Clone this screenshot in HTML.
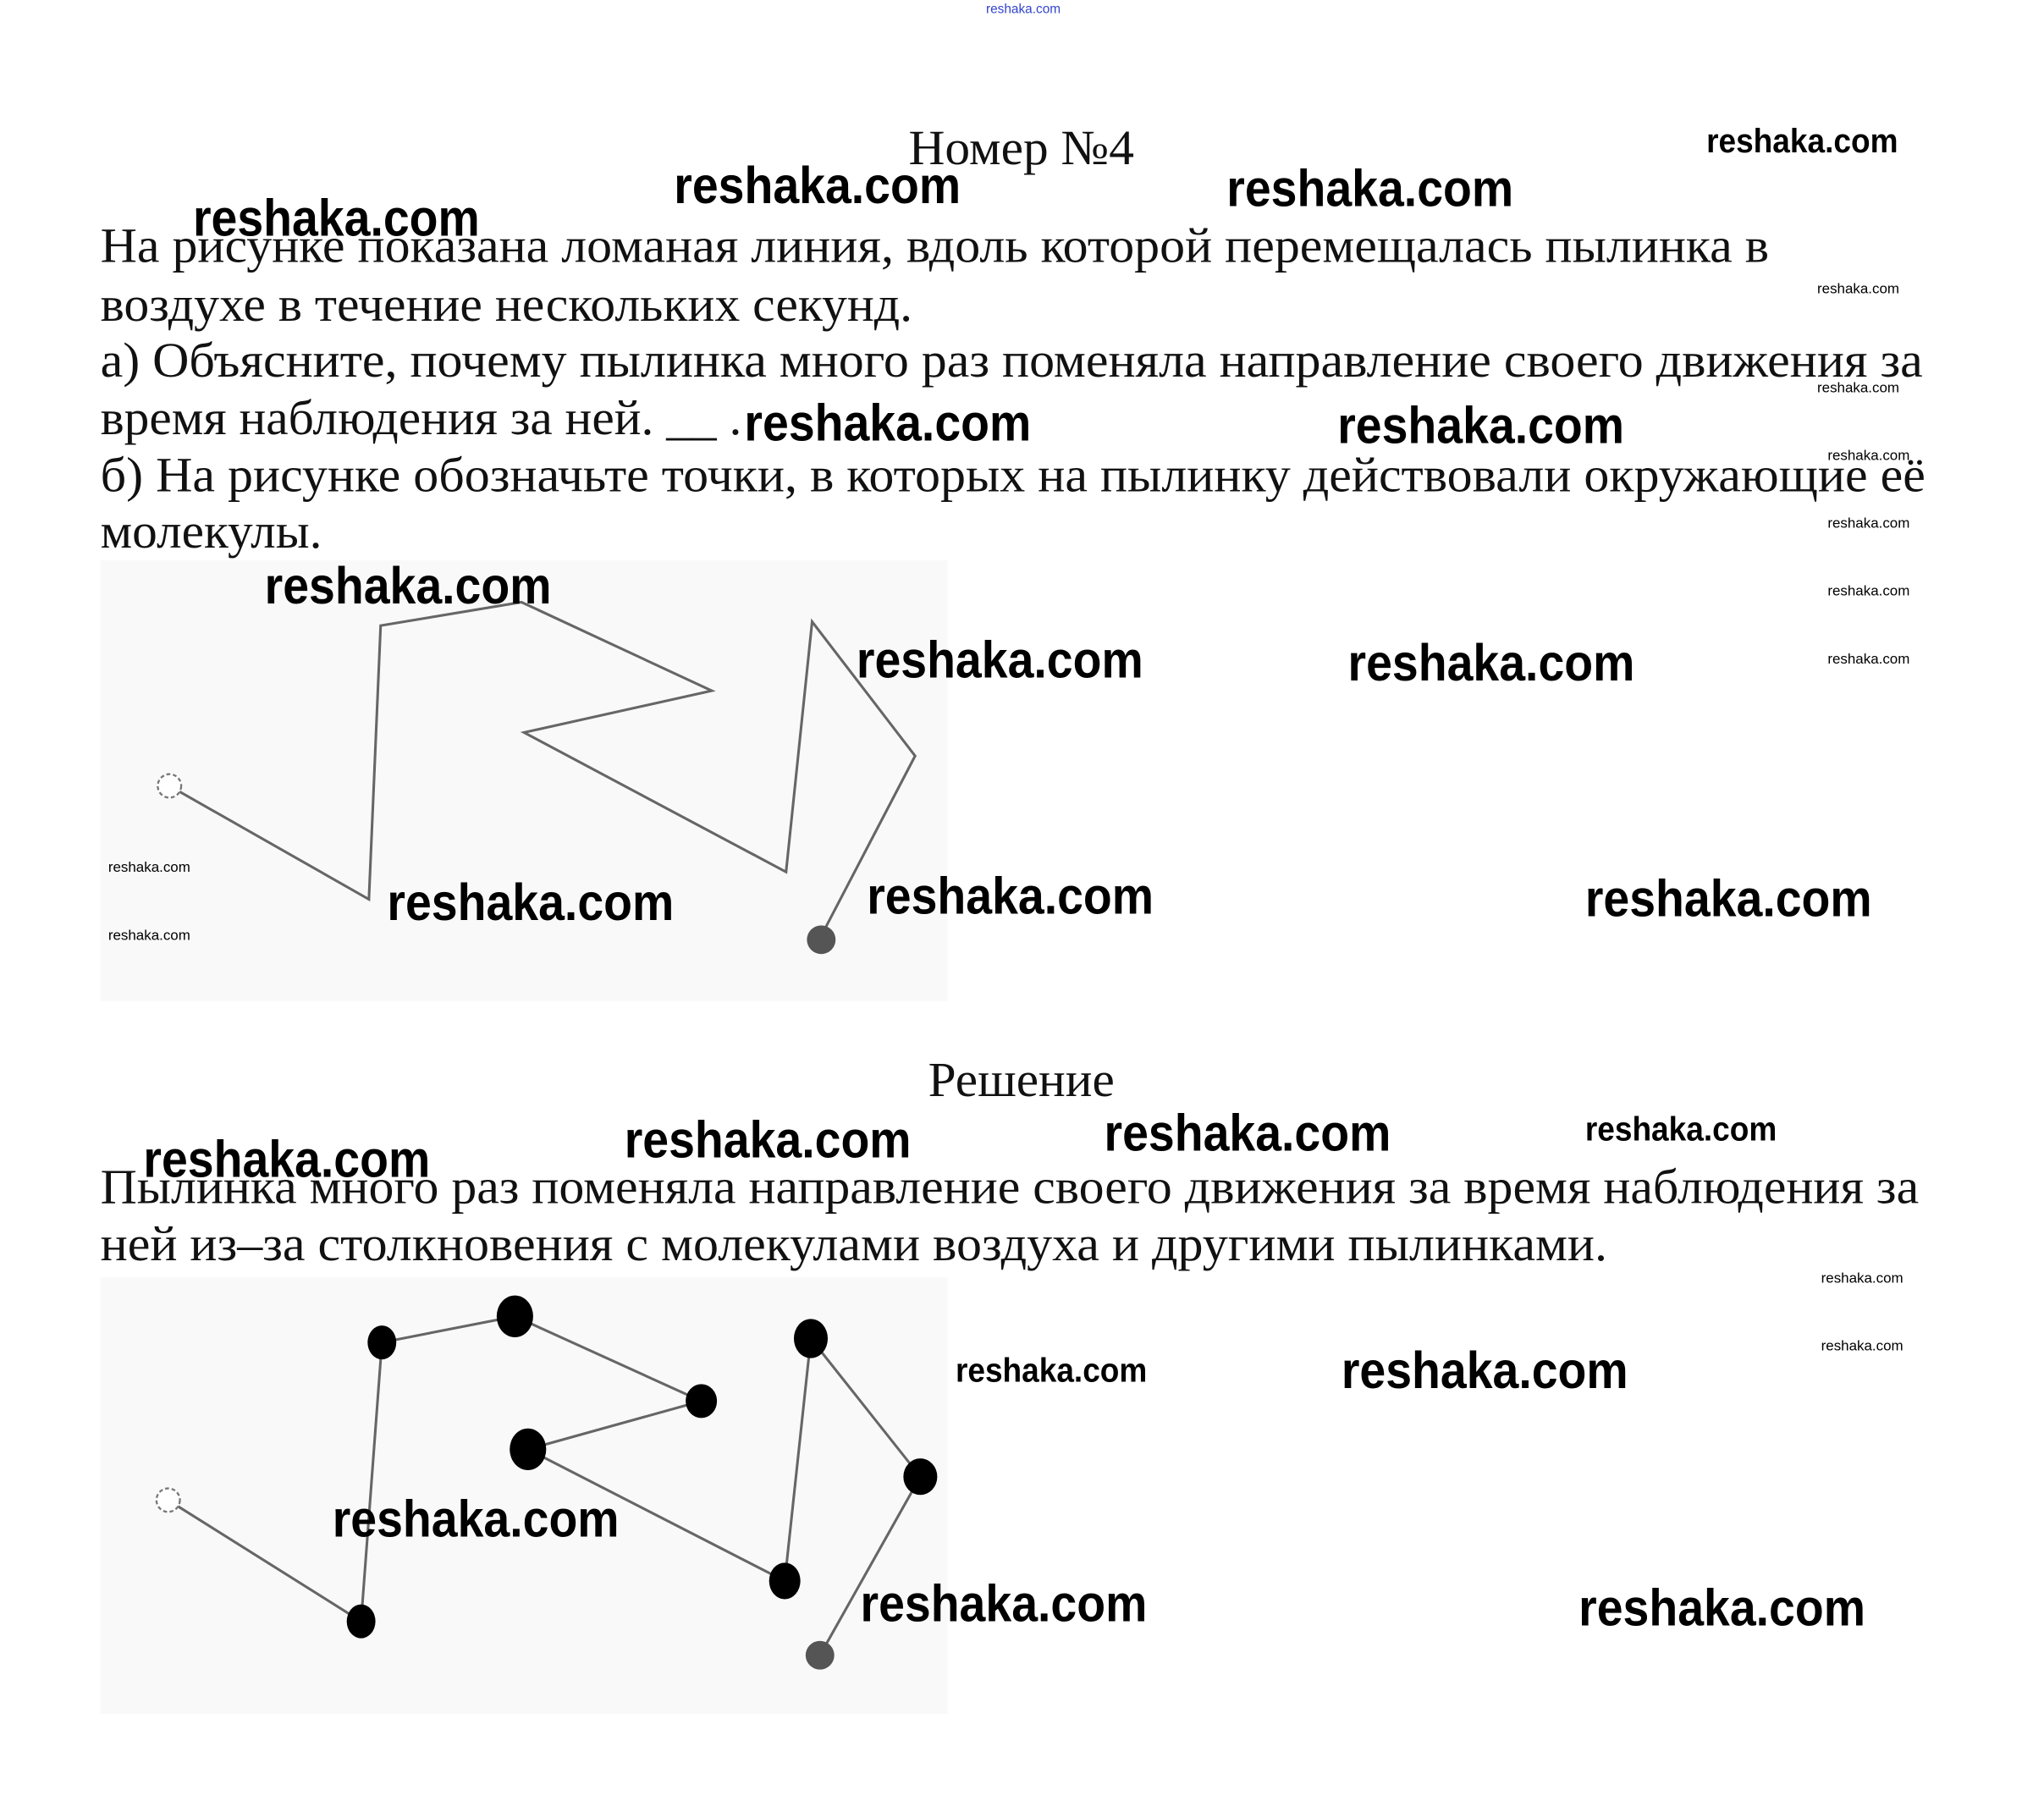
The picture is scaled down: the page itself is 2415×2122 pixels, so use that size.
<!DOCTYPE html>
<html><head><meta charset="utf-8"><style>
html,body{margin:0;padding:0;background:#fff;}
svg{display:block;}
.t{font-family:"Liberation Serif",serif;font-size:38px;fill:#111;}
.w{font-family:"Liberation Sans",sans-serif;font-weight:bold;fill:#000;}
.L{font-size:40px;}
.M{font-size:26px;}
.S{font-size:11px;font-weight:normal;}
</style></head><body>
<svg width="2415" height="2122" viewBox="0 0 1568 1378" preserveAspectRatio="none" xmlns="http://www.w3.org/2000/svg">
<rect width="1568" height="1378" fill="#fff"/>
<text x="785" y="10" font-family="Liberation Sans,sans-serif" font-size="10" fill="#3344cc" text-anchor="middle">reshaka.com</text>

<text class="t" x="697" y="126" textLength="173" lengthAdjust="spacingAndGlyphs">Номер №4</text>
<text class="t" x="77" y="201" textLength="1280" lengthAdjust="spacingAndGlyphs">На рисунке показана ломаная линия, вдоль которой перемещалась пылинка в</text>
<text class="t" x="77" y="246" textLength="623" lengthAdjust="spacingAndGlyphs">воздухе в течение нескольких секунд.</text>
<text class="t" x="77" y="289" textLength="1398" lengthAdjust="spacingAndGlyphs">а) Объясните, почему пылинка много раз поменяла направление своего движения за</text>
<text class="t" x="77" y="333" textLength="492" lengthAdjust="spacingAndGlyphs">время наблюдения за ней. __ .</text>
<text class="t" x="77" y="377" textLength="1400" lengthAdjust="spacingAndGlyphs">б) На рисунке обозначьте точки, в которых на пылинку действовали окружающие её</text>
<text class="t" x="77" y="420" textLength="170" lengthAdjust="spacingAndGlyphs">молекулы.</text>

<rect x="77" y="430" width="650" height="338" fill="#f9f9f9"/>
<polyline points="130,603 283,690 292,480 400,462 546,530 402,562 603,669 623,477 702,580 630,718" fill="none" stroke="#666" stroke-width="2"/>
<circle cx="130" cy="603" r="9" fill="#fff" stroke="#777" stroke-width="1.5" stroke-dasharray="3,2"/>
<circle cx="630" cy="721" r="11" fill="#555"/>

<text class="t" x="712" y="841" textLength="143" lengthAdjust="spacingAndGlyphs">Решение</text>
<text class="t" x="77" y="923" textLength="1395" lengthAdjust="spacingAndGlyphs">Пылинка много раз поменяла направление своего движения за время наблюдения за</text>
<text class="t" x="77" y="967" textLength="1156" lengthAdjust="spacingAndGlyphs">ней из–за столкновения с молекулами воздуха и другими пылинками.</text>

<rect x="77" y="980" width="650" height="335" fill="#f9f9f9"/>
<polyline points="129,1151 277,1244 293,1030 395,1010 538,1075 405,1112 602,1213 622,1027 706,1133 629,1270" fill="none" stroke="#666" stroke-width="2"/>
<circle cx="129" cy="1151" r="9" fill="#fff" stroke="#777" stroke-width="1.5" stroke-dasharray="3,2"/>
<g fill="#000">
<ellipse cx="277" cy="1244" rx="11" ry="13"/>
<ellipse cx="293" cy="1030" rx="11" ry="13"/>
<ellipse cx="395" cy="1010" rx="14" ry="16"/>
<ellipse cx="538" cy="1075" rx="12" ry="13"/>
<ellipse cx="405" cy="1112" rx="14" ry="16"/>
<ellipse cx="602" cy="1213" rx="12" ry="14"/>
<ellipse cx="622" cy="1027" rx="13" ry="15"/>
<ellipse cx="706" cy="1133" rx="13" ry="14"/>
</g>
<circle cx="629" cy="1270" r="11" fill="#555"/>

<g class="w">
<text class="M" x="1309" y="117" textLength="147" lengthAdjust="spacingAndGlyphs">reshaka.com</text>
<text class="L" x="517" y="156" textLength="220" lengthAdjust="spacingAndGlyphs">reshaka.com</text>
<text class="L" x="941" y="158" textLength="220" lengthAdjust="spacingAndGlyphs">reshaka.com</text>
<text class="L" x="148" y="181" textLength="220" lengthAdjust="spacingAndGlyphs">reshaka.com</text>
<text class="L" x="571" y="338" textLength="220" lengthAdjust="spacingAndGlyphs">reshaka.com</text>
<text class="L" x="1026" y="340" textLength="220" lengthAdjust="spacingAndGlyphs">reshaka.com</text>
<text class="L" x="203" y="463" textLength="220" lengthAdjust="spacingAndGlyphs">reshaka.com</text>
<text class="L" x="657" y="520" textLength="220" lengthAdjust="spacingAndGlyphs">reshaka.com</text>
<text class="L" x="1034" y="522" textLength="220" lengthAdjust="spacingAndGlyphs">reshaka.com</text>
<text class="L" x="297" y="706" textLength="220" lengthAdjust="spacingAndGlyphs">reshaka.com</text>
<text class="L" x="665" y="701" textLength="220" lengthAdjust="spacingAndGlyphs">reshaka.com</text>
<text class="L" x="1216" y="703" textLength="220" lengthAdjust="spacingAndGlyphs">reshaka.com</text>
<text class="L" x="110" y="903" textLength="220" lengthAdjust="spacingAndGlyphs">reshaka.com</text>
<text class="L" x="479" y="888" textLength="220" lengthAdjust="spacingAndGlyphs">reshaka.com</text>
<text class="L" x="847" y="883" textLength="220" lengthAdjust="spacingAndGlyphs">reshaka.com</text>
<text class="M" x="1216" y="875" textLength="147" lengthAdjust="spacingAndGlyphs">reshaka.com</text>
<text class="M" x="733" y="1060" textLength="147" lengthAdjust="spacingAndGlyphs">reshaka.com</text>
<text class="L" x="1029" y="1065" textLength="220" lengthAdjust="spacingAndGlyphs">reshaka.com</text>
<text class="L" x="255" y="1179" textLength="220" lengthAdjust="spacingAndGlyphs">reshaka.com</text>
<text class="L" x="660" y="1244" textLength="220" lengthAdjust="spacingAndGlyphs">reshaka.com</text>
<text class="L" x="1211" y="1247" textLength="220" lengthAdjust="spacingAndGlyphs">reshaka.com</text>
<text class="S" x="1394" y="225" textLength="63" lengthAdjust="spacingAndGlyphs">reshaka.com</text>
<text class="S" x="1394" y="301" textLength="63" lengthAdjust="spacingAndGlyphs">reshaka.com</text>
<text class="S" x="1402" y="353" textLength="63" lengthAdjust="spacingAndGlyphs">reshaka.com</text>
<text class="S" x="1402" y="405" textLength="63" lengthAdjust="spacingAndGlyphs">reshaka.com</text>
<text class="S" x="1402" y="457" textLength="63" lengthAdjust="spacingAndGlyphs">reshaka.com</text>
<text class="S" x="1402" y="509" textLength="63" lengthAdjust="spacingAndGlyphs">reshaka.com</text>
<text class="S" x="83" y="669" textLength="63" lengthAdjust="spacingAndGlyphs">reshaka.com</text>
<text class="S" x="83" y="721" textLength="63" lengthAdjust="spacingAndGlyphs">reshaka.com</text>
<text class="S" x="1397" y="984" textLength="63" lengthAdjust="spacingAndGlyphs">reshaka.com</text>
<text class="S" x="1397" y="1036" textLength="63" lengthAdjust="spacingAndGlyphs">reshaka.com</text>
</g>
</svg>
</body></html>
